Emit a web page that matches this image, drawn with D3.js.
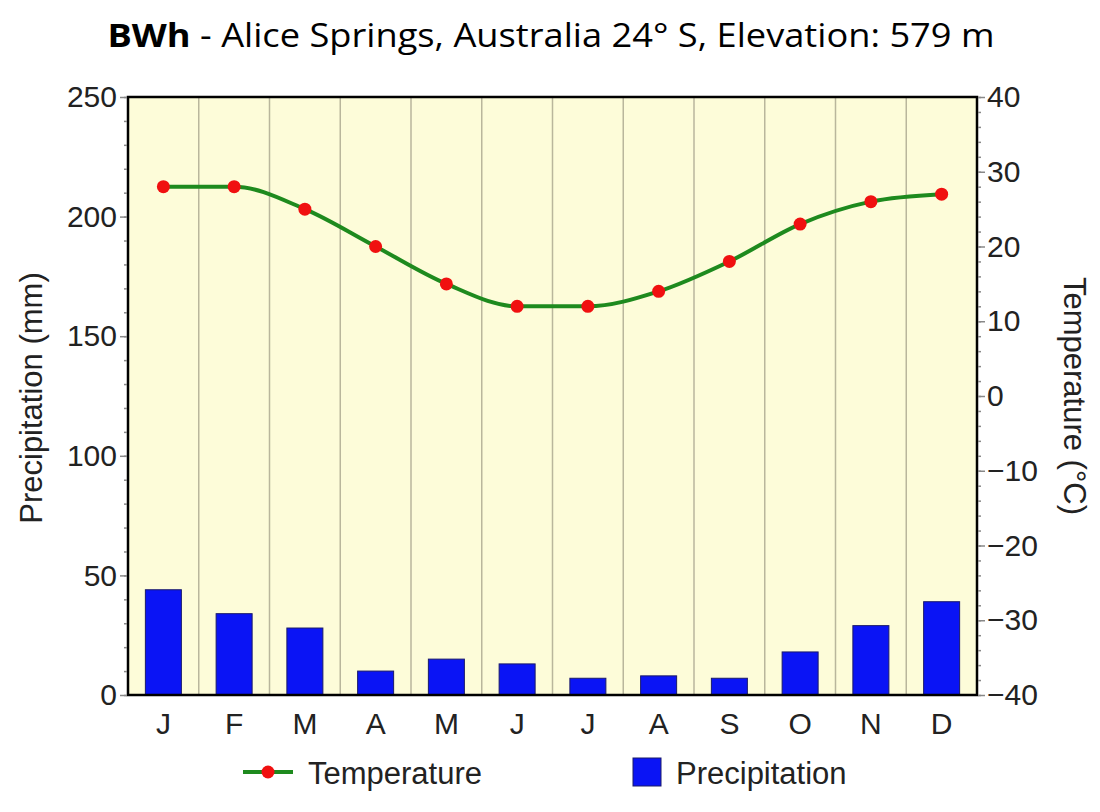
<!DOCTYPE html>
<html><head><meta charset="utf-8">
<script src="https://cdn.jsdelivr.net/npm/d3@7"></script>
<style>body{margin:0;background:#fff}</style>
</head><body><div id="chart"></div>
<script>
const months = ["J","F","M","A","M","J","J","A","S","O","N","D"];
const precip = [44, 34, 28, 10, 15, 13, 7, 8, 7, 18, 29, 39];
const temps = [28, 28, 25, 20, 15, 12, 12, 14, 18, 23, 26, 27];
const precipTicks = [0, 50, 100, 150, 200, 250];
const tempTicks = [-40, -30, -20, -10, 0, 10, 20, 30, 40];

const width = 1100, height = 812;
const pLeft = 128, pRight = 977, pTop = 97, pBottom = 695;
const font = "Helvetica, Arial, 'Liberation Sans', sans-serif";

const svg = d3.select("#chart").append("svg")
    .attr("width", width).attr("height", height);

// title
const title = svg.append("text").attr("x", 551).attr("y", 47)
    .attr("text-anchor", "middle").attr("font-family", "'Open Sans', sans-serif")
    .attr("font-size", 32).attr("textLength", 887).attr("lengthAdjust", "spacingAndGlyphs");
title.append("tspan").attr("font-weight", "bold").text("BWh");
title.append("tspan").text(" - Alice Springs, Australia 24° S, Elevation: 579 m");

const x = d3.scaleBand().domain(d3.range(12)).range([pLeft, pRight]);
const yP = d3.scaleLinear().domain([0, 250]).range([pBottom, pTop]);
const yT = d3.scaleLinear().domain([-40, 40]).range([pBottom, pTop]);

svg.append("rect").attr("x", pLeft).attr("y", pTop)
    .attr("width", pRight - pLeft).attr("height", pBottom - pTop).attr("fill", "#fdfcd9");

// vertical grid
svg.selectAll(".grid").data(d3.range(1, 12)).enter().append("line")
    .attr("x1", d => x(d)).attr("x2", d => x(d))
    .attr("y1", pTop).attr("y2", pBottom)
    .attr("stroke", "#b9b69c").attr("stroke-width", 1.5);

// bars
svg.selectAll(".bar").data(precip).enter().append("rect")
    .attr("x", (d, i) => x(i) + x.bandwidth() / 2 - 18)
    .attr("width", 36)
    .attr("y", d => yP(d)).attr("height", d => pBottom - yP(d))
    .attr("fill", "#0a14f5").attr("stroke", "#1a1a6a").attr("stroke-width", 1);

// temperature line
const line = d3.line().x((d, i) => x(i) + x.bandwidth() / 2).y(d => yT(d))
    .curve(d3.curveMonotoneX);
svg.append("path").datum(temps).attr("d", line)
    .attr("fill", "none").attr("stroke", "#1e8a1e").attr("stroke-width", 4);
svg.selectAll(".pt").data(temps).enter().append("circle")
    .attr("cx", (d, i) => x(i) + x.bandwidth() / 2).attr("cy", d => yT(d))
    .attr("r", 6.5).attr("fill", "#f01010");

// frame
svg.append("rect").attr("x", pLeft).attr("y", pTop)
    .attr("width", pRight - pLeft).attr("height", pBottom - pTop)
    .attr("fill", "none").attr("stroke", "#000").attr("stroke-width", 2.5);

// axes
function styleAxis(g) {
    g.select(".domain").remove();
    g.selectAll("line").attr("stroke", "#888").attr("stroke-width", 1.5);
    g.selectAll("text").attr("font-family", font).attr("font-size", 30).attr("fill", "#222");
}
svg.append("g").attr("transform", `translate(${pLeft - 1},0)`)
    .call(d3.axisLeft(yP).tickValues(d3.range(0, 251, 10)).tickSize(3).tickFormat(""))
    .call(styleAxis);
svg.append("g").attr("transform", `translate(${pLeft - 1},0)`)
    .call(d3.axisLeft(yP).tickValues(precipTicks).tickSize(7).tickPadding(3))
    .call(styleAxis);
svg.append("g").attr("transform", `translate(${pRight + 1},0)`)
    .call(d3.axisRight(yT).tickValues(d3.range(-40, 41, 2)).tickSize(3).tickFormat(""))
    .call(styleAxis);
svg.append("g").attr("transform", `translate(${pRight + 1},0)`)
    .call(d3.axisRight(yT).tickValues(tempTicks).tickSize(7).tickPadding(2))
    .call(styleAxis);
svg.append("g").attr("transform", `translate(0,${pBottom})`)
    .call(d3.axisBottom(x).tickSize(0).tickPadding(18).tickFormat(i => months[i]))
    .call(styleAxis);

// axis titles
svg.append("text").attr("transform", `translate(42,${(pTop + pBottom) / 2 + 2}) rotate(-90)`)
    .attr("text-anchor", "middle").attr("font-family", font).attr("font-size", 31)
    .attr("fill", "#222").text("Precipitation (mm)");
svg.append("text").attr("transform", `translate(1064,${(pTop + pBottom) / 2}) rotate(90)`)
    .attr("text-anchor", "middle").attr("font-family", font).attr("font-size", 31)
    .attr("fill", "#222").text("Temperature (°C)");

// legend
svg.append("line").attr("x1", 243).attr("x2", 293).attr("y1", 772).attr("y2", 772)
    .attr("stroke", "#1e8a1e").attr("stroke-width", 4);
svg.append("circle").attr("cx", 268).attr("cy", 772).attr("r", 6.5).attr("fill", "#f01010");
svg.append("text").attr("x", 308).attr("y", 784).attr("font-family", font)
    .attr("font-size", 31).attr("fill", "#222").text("Temperature");
svg.append("rect").attr("x", 633).attr("y", 758).attr("width", 28).attr("height", 28)
    .attr("fill", "#0a14f5").attr("stroke", "#1a1a6a");
svg.append("text").attr("x", 676).attr("y", 784).attr("font-family", font)
    .attr("font-size", 31).attr("fill", "#222").text("Precipitation");
</script></body></html>
